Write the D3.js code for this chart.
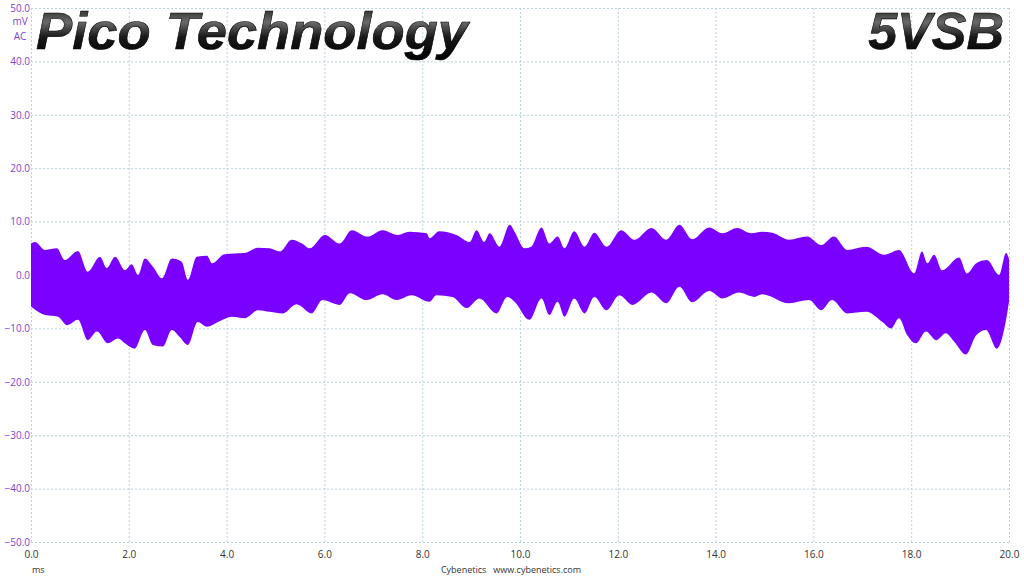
<!DOCTYPE html>
<html>
<head>
<meta charset="utf-8">
<script src="https://cdn.jsdelivr.net/npm/d3@7"></script>
<style>
  html, body { margin: 0; padding: 0; background: #fff; }
  svg { display: block; }
  .tick text { font-family: "Open Sans", "Noto Sans", sans-serif; font-size: 10px; }
</style>
</head>
<body>
<script>
// envelope of the 5VSB ripple trace (ms, mV)
const upperTime = [0.00,0.08,0.29,0.53,0.69,0.96,1.16,1.41,1.55,1.72,1.92,2.06,2.19,2.33,2.49,2.68,2.88,3.08,3.21,3.39,3.60,3.70,3.96,4.37,4.64,4.88,5.09,5.33,5.54,5.70,6.01,6.31,6.56,6.88,7.19,7.50,7.74,8.09,8.15,8.35,8.70,8.97,9.11,9.27,9.38,9.58,9.79,9.89,10.09,10.23,10.44,10.60,10.77,10.91,11.11,11.32,11.52,11.77,12.07,12.34,12.69,12.99,13.26,13.52,13.87,14.14,14.44,14.73,14.95,15.16,15.50,15.87,16.16,16.42,16.69,17.08,17.45,17.75,18.06,18.22,18.33,18.47,18.63,18.98,19.14,19.33,19.55,19.80,19.94,20.00];
const upperMv = [5.9,6.2,4.7,5.0,2.8,4.5,0.6,3.4,1.3,3.4,0.9,2.0,0.0,3.1,1.6,-0.6,3.1,2.5,-0.9,3.4,3.6,2.2,3.9,4.1,5.1,5.0,4.4,6.6,5.9,5.0,7.5,5.9,8.4,7.2,8.4,7.5,8.1,7.8,6.9,8.2,7.5,6.2,8.4,6.2,7.8,5.3,9.4,8.1,5.0,5.3,8.9,5.9,7.2,5.0,8.2,5.3,7.9,5.3,8.4,6.6,8.8,6.6,9.4,6.7,8.9,7.8,8.8,7.8,8.1,7.9,6.6,7.2,5.6,7.2,4.7,5.3,3.8,4.7,0.3,4.4,2.2,3.8,0.9,3.3,0.3,2.2,2.8,0.0,4.1,3.0];
const lowerTime = [0.00,0.29,0.55,0.74,0.96,1.16,1.35,1.57,1.78,1.92,2.12,2.33,2.49,2.70,2.88,3.04,3.21,3.41,3.60,3.82,4.11,4.37,4.64,4.88,5.15,5.43,5.74,5.96,6.31,6.52,6.86,7.19,7.48,7.78,8.15,8.29,8.62,8.91,9.17,9.52,9.74,9.89,10.19,10.44,10.60,10.77,10.91,11.11,11.32,11.52,11.77,12.03,12.30,12.69,12.99,13.26,13.52,13.87,14.14,14.48,14.79,14.95,15.50,15.91,16.16,16.38,16.69,17.08,17.41,17.59,17.75,17.92,18.10,18.30,18.51,18.71,18.88,19.12,19.33,19.53,19.75,19.94,20.00];
const lowerMv = [-5.9,-7.5,-7.8,-9.4,-8.4,-12.2,-10.6,-12.8,-11.9,-12.8,-13.8,-10.3,-13.1,-13.4,-10.3,-11.6,-13.1,-8.8,-9.7,-8.8,-7.8,-8.1,-6.6,-6.9,-7.2,-5.5,-7.2,-4.7,-5.6,-3.4,-4.7,-3.6,-4.7,-3.8,-5.0,-3.8,-4.1,-6.2,-4.4,-7.2,-4.1,-5.0,-8.4,-4.4,-7.5,-5.0,-7.8,-4.4,-7.2,-4.1,-6.6,-3.8,-5.6,-3.3,-5.3,-2.2,-5.1,-3.0,-4.4,-3.3,-4.1,-3.6,-5.3,-4.7,-6.6,-4.7,-7.2,-6.9,-8.8,-10.0,-8.1,-11.3,-12.8,-10.6,-12.2,-10.9,-12.5,-14.9,-11.3,-10.3,-13.8,-8.4,-5.0];

const xTicks = [0, 2, 4, 6, 8, 10, 12, 14, 16, 18, 20];
const yTicks = [50, 40, 30, 20, 10, 0, -10, -20, -30, -40, -50];

const W = 1024, H = 576;
const margin = { top: 8, right: 14, bottom: 34, left: 31 };
const bandColor = "#7a00ff";

const svg = d3.select("body").append("svg")
    .attr("width", W)
    .attr("height", H);

const defs = svg.append("defs");
const grad = defs.append("linearGradient")
    .attr("id", "titleGrad")
    .attr("x1", 0).attr("y1", 0).attr("x2", 0).attr("y2", 1);
grad.append("stop").attr("offset", "0%").attr("stop-color", "#111");
grad.append("stop").attr("offset", "35%").attr("stop-color", "#6a6a6a");
grad.append("stop").attr("offset", "60%").attr("stop-color", "#1a1a1a");
grad.append("stop").attr("offset", "100%").attr("stop-color", "#000");

let x = d3.scaleLinear()
    .domain([0, 20])
    .range([margin.left, W - margin.right - 1]);

let y = d3.scaleLinear()
    .domain([-50, 50])
    .range([H - margin.bottom, margin.top]);

// grid + y labels
svg.append("g")
    .attr("transform", "translate(" + margin.left + ",0)")
    .call(d3.axisLeft(y).tickValues(yTicks).tickFormat(d3.format(".1f"))
        .tickSize(-(x(20) - x(0))).tickPadding(1))
    .call(g => g.select(".domain").remove())
    .call(g => g.selectAll(".tick line")
        .attr("stroke", "#b9d3da").attr("stroke-dasharray", "2,2"))
    .call(g => g.selectAll(".tick text").attr("fill", "#7c3fd3"));

svg.append("g")
    .attr("transform", "translate(0," + y(-50) + ")")
    .call(d3.axisBottom(x).tickValues(xTicks).tickFormat(d3.format(".1f"))
        .tickSize(-(y(-50) - y(50))).tickPadding(9))
    .call(g => g.select(".domain").remove())
    .call(g => g.selectAll(".tick line")
        .attr("stroke", "#b9d3da").attr("stroke-dasharray", "2,2"))
    .call(g => g.selectAll(".tick text").attr("fill", "#333"));

// units under the 50.0 label
svg.append("text").attr("x", 20).attr("y", 25)
    .attr("text-anchor", "middle").attr("fill", "#7c3fd3")
    .style("font-family", "Open Sans, sans-serif").style("font-size", "10px")
    .text("mV");
svg.append("text").attr("x", 20).attr("y", 40)
    .attr("text-anchor", "middle").attr("fill", "#7c3fd3")
    .style("font-family", "Open Sans, sans-serif").style("font-size", "10px")
    .text("AC");

// ripple band drawn as two halves meeting (with overlap) around -1.5 mV
const upperPts = upperTime.map((t, i) => [t, upperMv[i]]);
const lowerPts = lowerTime.map((t, i) => [t, lowerMv[i]]);

let upperArea = d3.area()
    .curve(d3.curveMonotoneX)
    .x(d => x(d[0]))
    .y0(y(-2))
    .y1(d => y(d[1]));

let lowerArea = d3.area()
    .curve(d3.curveMonotoneX)
    .x(d => x(d[0]))
    .y0(d => y(d[1]))
    .y1(y(-1));

svg.append("path")
    .datum(upperPts)
    .attr("d", upperArea)
    .attr("fill", bandColor);

svg.append("path")
    .datum(lowerPts)
    .attr("d", lowerArea)
    .attr("fill", bandColor);

// titles
svg.append("text")
    .attr("x", 36).attr("y", 49)
    .attr("textLength", 432).attr("lengthAdjust", "spacingAndGlyphs")
    .attr("fill", "url(#titleGrad)")
    .attr("stroke", "#000").attr("stroke-width", 0.6)
    .style("font-family", "Liberation Sans, Arial, sans-serif")
    .style("font-size", "52px").style("font-weight", "bold").style("font-style", "italic")
    .text("Pico Technology");

svg.append("text")
    .attr("x", 1004).attr("y", 49)
    .attr("text-anchor", "end")
    .attr("fill", "url(#titleGrad)")
    .attr("stroke", "#000").attr("stroke-width", 0.6)
    .style("font-family", "Liberation Sans, Arial, sans-serif")
    .style("font-size", "52px").style("font-weight", "bold").style("font-style", "italic")
    .text("5VSB");

// footer
svg.append("text").attr("x", 32).attr("y", 573)
    .attr("fill", "#333")
    .style("font-family", "Open Sans, sans-serif").style("font-size", "9px")
    .text("ms");
svg.append("text").attr("x", 511).attr("y", 573)
    .attr("text-anchor", "middle").attr("fill", "#333")
    .attr("xml:space", "preserve")
    .style("font-family", "Open Sans, sans-serif").style("font-size", "9px")
    .text("Cybenetics   www.cybenetics.com");
</script>
</body>
</html>
